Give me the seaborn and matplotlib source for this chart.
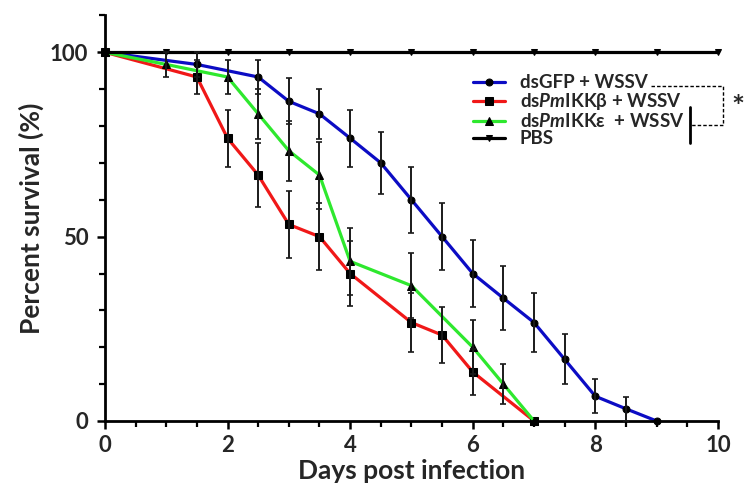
import matplotlib
matplotlib.use("Agg")
import matplotlib.pyplot as plt
from matplotlib.ticker import MultipleLocator
import seaborn as sns

# Survival (%) per sampling day, with error half-widths
gfp_days = [0, 1.5, 2.5, 3, 3.5, 4, 4.5, 5, 5.5, 6, 6.5, 7, 7.5, 8, 8.5, 9]
gfp_surv = [100, 96.7, 93.3, 86.7, 83.3, 76.7, 70, 60, 50, 40, 33.3, 26.7, 16.7, 6.7, 3.3, 0]
gfp_err = [0, 3.3, 4.6, 6.2, 6.8, 7.7, 8.4, 8.9, 9.1, 9.0, 8.6, 8.1, 6.8, 4.6, 3.3, 0]

ikkb_days = [0, 1.5, 2, 2.5, 3, 3.5, 4, 5, 5.5, 6, 7]
ikkb_surv = [100, 93.3, 76.7, 66.7, 53.3, 50, 40, 26.7, 23.3, 13.3, 0]
ikkb_err = [0, 4.6, 7.7, 8.6, 9.1, 9.1, 8.9, 8.1, 7.7, 6.2, 0]

ikke_days = [0, 1, 2, 2.5, 3, 3.5, 4, 5, 6, 6.5, 7]
ikke_surv = [100, 96.7, 93.3, 83.3, 73.3, 66.7, 43.3, 36.7, 20, 10, 0]
ikke_err = [0, 3.3, 4.6, 6.8, 8.1, 9.1, 9.0, 8.8, 7.3, 5.5, 0]

pbs_days = [0, 1, 2, 3, 4, 5, 6, 7, 8, 9, 10]
pbs_surv = [100, 100, 100, 100, 100, 100, 100, 100, 100, 100, 100]

labels = [
    "dsGFP + WSSV",
    r"ds$\mathit{Pm}$IKK$\mathrm{\beta}$ + WSSV",
    r"ds$\mathit{Pm}$IKK$\mathrm{\varepsilon}$  + WSSV",
    "PBS",
]

sns.set_theme(style="ticks")
plt.rcParams["font.family"] = ["Lato", "DejaVu Sans"]
plt.rcParams["font.weight"] = "bold"
plt.rcParams["mathtext.fontset"] = "custom"
plt.rcParams["mathtext.rm"] = "Lato:bold"
plt.rcParams["mathtext.it"] = "Lato:italic:bold"
plt.rcParams["mathtext.bf"] = "Lato:bold"

fig = plt.figure(figsize=(7.44, 4.91), dpi=100)
ax = fig.add_axes([0.141, 0.1426, 0.824, 0.826])

series = [
    (gfp_days, gfp_surv, gfp_err, "#0c0cc4", "o", 5.0, labels[0]),
    (ikkb_days, ikkb_surv, ikkb_err, "#f01818", "s", 5.5, labels[1]),
    (ikke_days, ikke_surv, ikke_err, "#2ee82e", "^", 5.5, labels[2]),
    (pbs_days, pbs_surv, None, "black", "v", 5.0, labels[3]),
]

for days, surv, err, col, mk, ms, lab in series:
    if err is not None:
        ex = [d for d, e in zip(days, err) if e > 0]
        ey = [s for s, e in zip(surv, err) if e > 0]
        ee = [e for e in err if e > 0]
        ax.errorbar(ex, ey, yerr=ee, fmt="none", ecolor="#1a1a1a",
                    elinewidth=1.4, capsize=2.2, capthick=1.2, zorder=3)
    sns.lineplot(x=days, y=surv, ax=ax, color=col, lw=2.3, marker=mk,
                 markersize=ms, markerfacecolor="black", markeredgecolor="black",
                 errorbar=None, label=lab, clip_on=False, zorder=2)

ax.set_xlim(0, 10)
ax.set_ylim(0, 110)
ax.set_yticks([0, 50, 100])
ax.set_xticks([0, 2, 4, 6, 8, 10])
ax.xaxis.set_minor_locator(MultipleLocator(0.5))
ax.yaxis.set_minor_locator(MultipleLocator(10))
ax.tick_params(axis="both", which="major", length=6, width=1.8, labelsize=16,
               direction="out", color="black", pad=4)
ax.tick_params(axis="y", which="major", pad=6)
ax.tick_params(axis="both", which="minor", length=4, width=1.6, color="black",
               direction="out")
for lbl in ax.get_xticklabels() + ax.get_yticklabels():
    lbl.set_fontweight("bold")

sns.despine(ax=ax)
for side in ("left", "bottom"):
    ax.spines[side].set_linewidth(2.0)
    ax.spines[side].set_color("black")

ax.set_xlabel("Days post infection", fontsize=19, fontweight="bold", labelpad=2)
ax.set_ylabel("Percent survival (%)", fontsize=19, fontweight="bold", labelpad=4)

handles, labs = ax.get_legend_handles_labels()
leg = ax.legend(handles, labs, loc="upper left", bbox_to_anchor=(0.600, 0.855),
                frameon=False, handlelength=1.7, handletextpad=0.8,
                labelspacing=0.0, borderpad=0, borderaxespad=0,
                prop={"weight": "bold", "size": 13.5})

# Significance bracket drawn next to the legend rows (pixel offsets -> data)
fig.canvas.draw()
renderer = fig.canvas.get_renderer()
boxes = [t.get_window_extent(renderer) for t in leg.get_texts()]
inv = ax.transData.inverted()
H = fig.bbox.height


def to_data(px, py_from_top):
    return inv.transform((px, H - py_from_top))


row_y = [H - (b.y0 + b.y1) / 2 for b in boxes]  # row centres, from top
x_start = boxes[0].x1 + 4
x_right = 723
x_bar = max(boxes[1].x1, boxes[2].x1) + 6

p1 = to_data(x_start, row_y[0] + 3)
p2 = to_data(x_right, row_y[0] + 3)
p3 = to_data(x_right, row_y[2] + 4)
p4 = to_data(x_bar, row_y[2] + 4)
ax.plot([p1[0], p2[0], p3[0], p4[0]], [p1[1], p2[1], p3[1], p4[1]],
        color="black", lw=1.0, ls=(0, (2.5, 1.5)), clip_on=False)

b1 = to_data(x_bar, row_y[1] + 5)
b2 = to_data(x_bar, row_y[2] + 22)
ax.plot([b1[0], b2[0]], [b1[1], b2[1]], color="black", lw=2.0, clip_on=False)

s = to_data(738, row_y[0] + 25)
ax.text(s[0], s[1], "*", fontsize=22, fontweight="bold", ha="center",
        va="center", clip_on=False)

fig.savefig("out.png", dpi=100)
